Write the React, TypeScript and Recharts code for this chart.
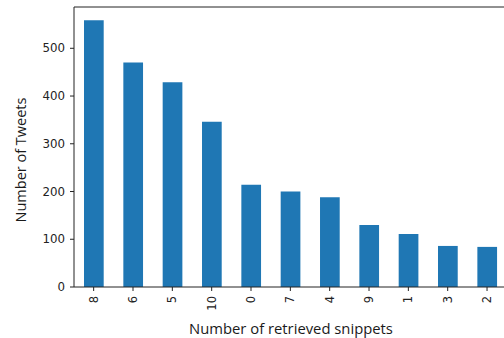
import { Bar, BarChart, Label, ReferenceLine, XAxis, YAxis } from "recharts"

const snippets = ["8", "6", "5", "10", "0", "7", "4", "9", "1", "3", "2"]
const tweets = [559, 470, 429, 346, 214, 200, 188, 130, 111, 86, 84]
const yTicks = [0, 100, 200, 300, 400, 500]

const data = snippets.map((name, i) => ({ name, tweets: tweets[i] }))

const tickFont = "'DejaVu Sans', sans-serif"
const labelFont = "'Open Sans', sans-serif"

function RotatedTick(props: any) {
    const { x, y, payload } = props
    return (
        <g transform={`translate(${x},${y + 3})`}>
            <text
                transform="rotate(-90)"
                textAnchor="end"
                dy="0.35em"
                fontFamily={tickFont}
                fontSize={11.5}
                fill="#222"
            >
                {payload.value}
            </text>
        </g>
    )
}

export default function App() {
    return (
        <div style={{ position: "fixed", left: 0, top: 0, width: 504, height: 338, overflow: "hidden", background: "#fff" }}>
            <BarChart
                width={520}
                height={338}
                data={data}
                margin={{ top: 7, right: 13.3, bottom: 0, left: 0 }}
            >
                <XAxis
                    dataKey="name"
                    height={51}
                    tickSize={4}
                    tickMargin={2}
                    stroke="#222"
                    tick={<RotatedTick />}
                    interval={0}
                >
                    <Label
                        content={() => (
                            <text x={291} y={328} textAnchor="middle" dominantBaseline="central"
                                fontFamily={labelFont} fontSize={14.8} fill="#1a1a1a">
                                Number of retrieved snippets
                            </text>
                        )}
                    />
                </XAxis>
                <YAxis
                    width={74}
                    domain={[0, 586.5]}
                    ticks={yTicks}
                    tickSize={4}
                    tickMargin={5}
                    stroke="#222"
                    tick={{ fontFamily: tickFont, fontSize: 11.8, fill: "#222" }}
                >
                    <Label
                        content={() => (
                            <text x={20} y={160} transform="rotate(-90, 20, 160)" textAnchor="middle"
                                dominantBaseline="central" fontFamily={labelFont} fontSize={14.5} fill="#1a1a1a">
                                Number of Tweets
                            </text>
                        )}
                    />
                </YAxis>
                <ReferenceLine y={586.5} stroke="#222" />
                <Bar dataKey="tweets" fill="#1f77b4" barSize={19.7} isAnimationActive={false} />
            </BarChart>
        </div>
    )
}
